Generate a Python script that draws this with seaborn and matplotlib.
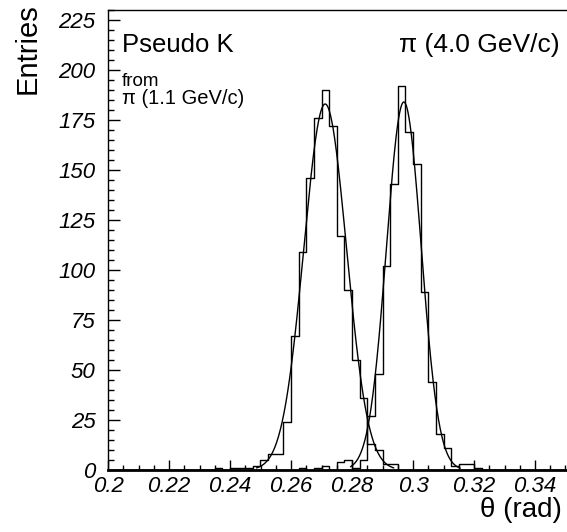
import numpy as np
import pandas as pd
import matplotlib
matplotlib.use("Agg")
import matplotlib.pyplot as plt
from matplotlib.ticker import MultipleLocator
import seaborn as sns

# ---------------- data ----------------
bin_width = 0.0025
bin_start = 0.2
n_bins = 60  # 0.2 .. 0.35

# left histogram (pseudo K from pi 1.1 GeV/c): bin index -> entries
left_idx = [14, 15, 16, 17, 18, 19, 20, 21, 22, 23, 24, 25, 26, 27, 28, 29, 30,
            31, 32, 33, 34, 35, 36, 37]
left_counts = [1, 0, 1, 1, 1, 2, 5, 8, 8, 24, 67, 109, 146, 176, 190, 172, 117,
               90, 55, 36, 13, 10, 3, 3]

# right histogram (pi 4.0 GeV/c)
right_idx = [25, 26, 27, 28, 29, 30, 31, 32, 33, 34, 35, 36, 37, 38, 39, 40, 41,
             42, 43, 44, 45, 46, 47, 48]
right_counts = [1, 0, 1, 2, 0, 4, 5, 1, 5, 27, 48, 102, 143, 192, 169, 153, 89,
                44, 18, 11, 2, 3, 3, 1]

# Gaussian fit parameters (amplitude, mean, sigma, fit range)
left_fit = dict(amp=183.0, mean=0.2712, sigma=0.0070, lo=0.2487, hi=0.2937)
right_fit = dict(amp=184.0, mean=0.2970, sigma=0.0057, lo=0.2795, hi=0.3155)

x_ticks = [0.2, 0.22, 0.24, 0.26, 0.28, 0.3, 0.32, 0.34]
x_tick_labels = ["0.2", "0.22", "0.24", "0.26", "0.28", "0.3", "0.32", "0.34"]
y_ticks = [0, 25, 50, 75, 100, 125, 150, 175, 200, 225]

# ---------------- build tables ----------------
edges = [float(v) for v in bin_start + bin_width * np.arange(n_bins + 1)]
centers = [0.5 * (a + b) for a, b in zip(edges[:-1], edges[1:])]

def full_counts(idx, cnt):
    c = np.zeros(n_bins)
    for i, v in zip(idx, cnt):
        c[i] = v
    return c

df_left = pd.DataFrame({"theta": centers, "w": full_counts(left_idx, left_counts)})
df_right = pd.DataFrame({"theta": centers, "w": full_counts(right_idx, right_counts)})

def gauss_df(p):
    xs = np.linspace(p["lo"], p["hi"], 300)
    ys = p["amp"] * np.exp(-0.5 * ((xs - p["mean"]) / p["sigma"]) ** 2)
    return pd.DataFrame({"theta": xs, "y": ys})

# ---------------- draw ----------------
sns.set_theme(style="ticks")
plt.rcParams["font.family"] = ["Liberation Sans", "DejaVu Sans"]
for k in ("text.color", "axes.labelcolor", "xtick.color", "ytick.color",
          "axes.edgecolor"):
    plt.rcParams[k] = "black"

W, H = 567, 532
fig = plt.figure(figsize=(W / 100, H / 100), dpi=100)
ax_left_px, ax_bottom_px, ax_top_px = 108, 470, 10
ax = fig.add_axes([ax_left_px / W, 1 - ax_bottom_px / H,
                   1 - ax_left_px / W, (ax_bottom_px - ax_top_px) / H])

for d in (df_left, df_right):
    sns.histplot(data=d, x="theta", weights="w", bins=edges, element="step",
                 fill=False, color="black", linewidth=1.0, ax=ax)
for p in (left_fit, right_fit):
    g = gauss_df(p)
    sns.lineplot(data=g, x="theta", y="y", color="black", linewidth=1.0, ax=ax)

ax.set_xlim(0.2, 0.2 + (W - ax_left_px) / 3050.0)
ax.set_ylim(0, 230)
ax.set_xlabel("")
ax.set_ylabel("")

ax.set_xticks(x_ticks)
ax.set_xticklabels(x_tick_labels, fontstyle="italic", fontsize=16)
ax.set_yticks(y_ticks)
ax.set_yticklabels([str(v) for v in y_ticks], fontstyle="italic", fontsize=16)
ax.xaxis.set_minor_locator(MultipleLocator(0.005))
ax.yaxis.set_minor_locator(MultipleLocator(5))
ax.tick_params(which="both", direction="in", color="black", width=1.0)
ax.tick_params(axis="x", which="major", length=7.5, pad=4.5)
ax.tick_params(axis="x", which="minor", length=3.8)
ax.tick_params(axis="y", which="major", length=8.5, pad=9)
ax.tick_params(axis="y", which="minor", length=4.3)
ax.tick_params(top=False, right=False, which="both")

for s in ("left", "top"):
    ax.spines[s].set_linewidth(1.0)
    ax.spines[s].set_color("black")
ax.spines["bottom"].set_linewidth(2.0)
ax.spines["bottom"].set_color("black")
ax.spines["right"].set_visible(False)
ax.grid(False)

fig.text(28 / W, 1 - 3 / H, "Entries", rotation=90, ha="center", va="top",
         fontsize=21)
fig.text(562 / W, 1 - 510 / H, "θ (rad)", ha="right", va="center", fontsize=20)
fig.text(122 / W, 1 - 52 / H, "Pseudo K", ha="left", va="baseline",
         fontsize=18.5)
fig.text(560 / W, 1 - 52 / H, "π (4.0 GeV/c)", ha="right", va="baseline",
         fontsize=19)
fig.text(122 / W, 1 - 86 / H, "from", ha="left", va="baseline", fontsize=13.5)
fig.text(122 / W, 1 - 104 / H, "π (1.1 GeV/c)", ha="left", va="baseline",
         fontsize=14.5)

fig.savefig("out.png", dpi=100)
